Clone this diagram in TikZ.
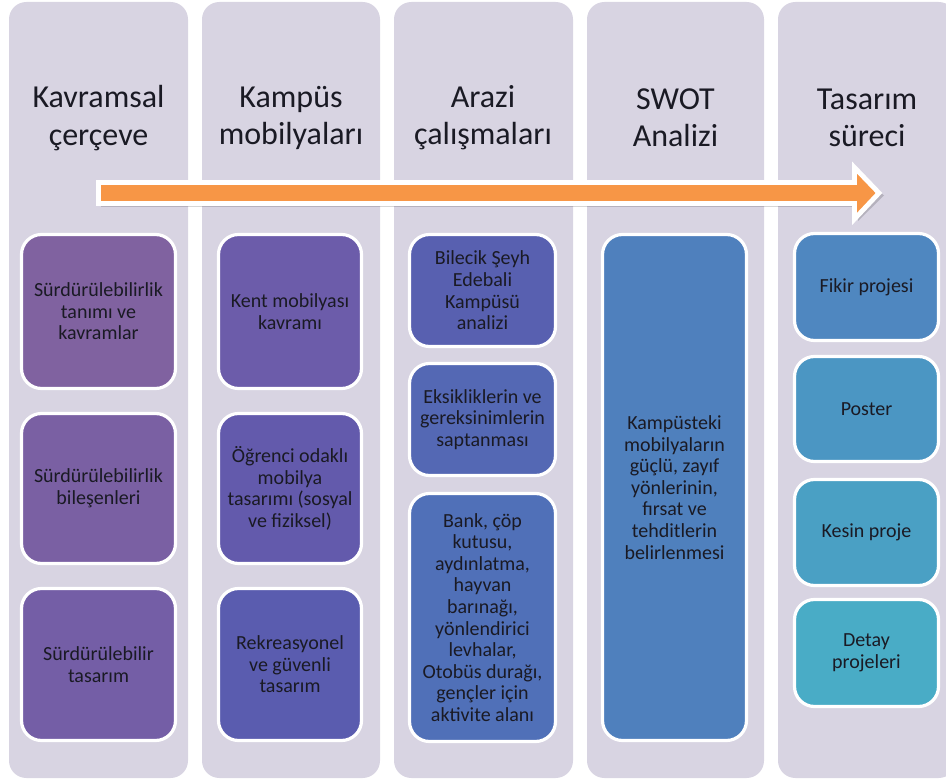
\documentclass[tikz,border=0pt]{standalone}
\usepackage{fontspec}
\setmainfont{Carlito}
\definecolor{colbg}{HTML}{D8D4E2}
\definecolor{txtdark}{HTML}{1A1A24}
\definecolor{arroworange}{HTML}{F79646}
\definecolor{boxaa}{HTML}{8062A0}
\definecolor{boxab}{HTML}{7A60A3}
\definecolor{boxac}{HTML}{745EA6}
\definecolor{boxba}{HTML}{6C5CAA}
\definecolor{boxbb}{HTML}{635AAC}
\definecolor{boxbc}{HTML}{5A5CAF}
\definecolor{boxca}{HTML}{5860B0}
\definecolor{boxcb}{HTML}{5468B4}
\definecolor{boxcc}{HTML}{5070B8}
\definecolor{boxda}{HTML}{4F80BD}
\definecolor{boxea}{HTML}{4F87C0}
\definecolor{boxeb}{HTML}{4B96C3}
\definecolor{boxec}{HTML}{4AA0C4}
\definecolor{boxed}{HTML}{49ACC6}
\begin{document}
\begin{tikzpicture}[x=0.75pt,y=-0.75pt,inner sep=0pt,outer sep=0pt,
	column/.style={fill=colbg,rounded corners=13pt},
	heading/.style={align=center,text=txtdark,font=\fontsize{24}{28}\selectfont},
	stepbox/.style={draw=white,line width=2.4pt,rounded corners=15pt},
	steptext/.style={align=center,text=txtdark,font=\fontsize{15}{16.2}\selectfont},
	flowarrow/.style={fill=arroworange,draw=white,line width=3.6pt,line join=miter}]
	\clip (0,0) rectangle (946,780);
	% columns
	\fill[column] (9,2) rectangle (188,778);
	\fill[column] (202,2) rectangle (380,778);
	\fill[column] (394,2) rectangle (573,778);
	\fill[column] (587,2) rectangle (764,778);
	\fill[column] (778,2) rectangle (956,778);
	% headings
	\draw (98.5,118) node[heading] (kavramsal) {Kavramsal\\çerçeve};
	\draw (291,118) node[heading] (kampus) {Kampüs\\mobilyaları};
	\draw (483,118) node[heading] (arazi) {Arazi\\çalışmaları};
	\draw (675.5,118) node[heading] (swot) {SWOT\\Analizi};
	\draw (867,118) node[heading] (tasarim) {Tasarım\\süreci};
	% process arrow
	\fill[black,opacity=0.16] (101,186) -- (858,186) -- (858,171) -- (884,195.5) -- (858,221) -- (858,207) -- (101,207) -- cycle;
	\filldraw[flowarrow] (98.5,182.5) -- (854.5,182.5) -- (854.5,167.5) -- (879,193) -- (854.5,219) -- (854.5,203.5) -- (98.5,203.5) -- cycle;
	% column 1
	\draw[stepbox,fill=boxaa] (21.5,234.5) rectangle (175.5,388.5);
	\draw (98.5,311.5) node[steptext] (tanim) {Sürdürülebilirlik\\tanımı ve\\kavramlar};
	\draw[stepbox,fill=boxab] (21.5,413.5) rectangle (175.5,563.5);
	\draw (98.5,488.5) node[steptext] (bilesen) {Sürdürülebilirlik\\bileşenleri};
	\draw[stepbox,fill=boxac] (21.5,588.5) rectangle (175.5,740.5);
	\draw (98.5,664.5) node[steptext] (surtas) {Sürdürülebilir\\tasarım};
	% column 2
	\draw[stepbox,fill=boxba] (218.5,234.5) rectangle (361.5,388.5);
	\draw (290,311.5) node[steptext] (kent) {Kent mobilyası\\kavramı};
	\draw[stepbox,fill=boxbb] (218.5,413.5) rectangle (361.5,563.5);
	\draw (290,488.5) node[steptext] (ogrenci) {Öğrenci odaklı\\mobilya\\tasarımı (sosyal\\ve fiziksel)};
	\draw[stepbox,fill=boxbc] (218.5,588.5) rectangle (361.5,740.5);
	\draw (290,664.5) node[steptext] (rekreasyon) {Rekreasyonel\\ve güvenli\\tasarım};
	% column 3
	\draw[stepbox,fill=boxca] (409.5,234.5) rectangle (555.5,346.5);
	\draw (482.5,290.5) node[steptext] (bilecik) {Bilecik Şeyh\\Edebali\\Kampüsü\\analizi};
	\draw[stepbox,fill=boxcb] (409.5,363.5) rectangle (555.5,475.5);
	\draw (482.5,419.5) node[steptext] (eksik) {Eksikliklerin ve\\gereksinimlerin\\saptanması};
	\draw[stepbox,fill=boxcc] (409.5,493.5) rectangle (555.5,741.5);
	\draw (482.5,617.5) node[steptext] (bank) {Bank, çöp\\kutusu,\\aydınlatma,\\hayvan\\barınağı,\\yönlendirici\\levhalar,\\Otobüs durağı,\\gençler için\\aktivite alanı};
	% column 4
	\draw[stepbox,fill=boxda] (602.5,234.5) rectangle (746.5,740.5);
	\draw (674.5,487.5) node[steptext] (guclu) {Kampüsteki\\mobilyaların\\güçlü, zayıf\\yönlerinin,\\fırsat ve\\tehditlerin\\belirlenmesi};
	% column 5
	\draw[stepbox,fill=boxea] (794.5,233.5) rectangle (938.5,340.5);
	\draw (866.5,287) node[steptext] (fikir) {Fikir projesi};
	\draw[stepbox,fill=boxeb] (794.5,356.5) rectangle (938.5,461.5);
	\draw (866.5,409) node[steptext] (poster) {Poster};
	\draw[stepbox,fill=boxec] (794.5,479.5) rectangle (938.5,585.5);
	\draw (866.5,532.5) node[steptext] (kesin) {Kesin proje};
	\draw[stepbox,fill=boxed] (794.5,599.5) rectangle (938.5,706.5);
	\draw (866.5,653) node[steptext] (detay) {Detay\\projeleri};
\end{tikzpicture}
\end{document}
